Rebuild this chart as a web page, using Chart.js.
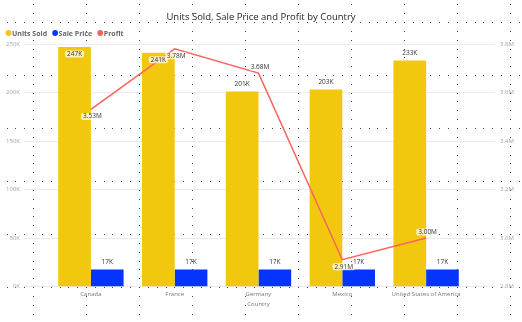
<!DOCTYPE html>
<html>
<head>
<meta charset="utf-8">
<script src="https://cdn.jsdelivr.net/npm/chart.js@4.4.1/dist/chart.umd.min.js"></script>
<style>
  html, body { margin: 0; padding: 0; background: #fff; }
  #wrap { width: 522px; height: 322px; }
</style>
</head>
<body>
<div id="wrap"><canvas id="myChart"></canvas></div>
<script>
  const countries = ['Canada', 'France', 'Germany', 'Mexico', 'United States of America'];
  const unitsSold = [247000, 241000, 201000, 203000, 233000];
  const salePrice = [17400, 17400, 17400, 17400, 17400];
  const profit = [3530000, 3780000, 3680000, 2910000, 3000000];
  const chartTitle = 'Units Sold, Sale Price and Profit by Country';
  const xTitle = 'Country';

  // which side of the point each profit label sits on
  const profitLabelSide = ['below', 'below', 'above', 'below', 'above'];

  const COLORS = {
    units: '#F2C80F',
    price: '#0534FF',
    profit: '#FD625E'
  };

  const fmtK = v => Math.round(v / 1000) + 'K';
  const fmtM = v => (v / 1e6).toFixed(2) + 'M';

  // Power BI style dotted canvas grid behind everything
  const dotGrid = {
    id: 'dotGrid',
    beforeDraw(chart) {
      const ctx = chart.ctx;
      const w = chart.width, h = chart.height;
      const step = 53, sub = 53 / 6;
      ctx.save();
      ctx.fillStyle = '#ffffff';
      ctx.fillRect(0, 0, w, h);
      ctx.fillStyle = '#444444';
      for (let y = 22; y < h; y += step) {
        for (let x = 33 - 3 * sub; x < w; x += sub) ctx.fillRect(Math.round(x), y, 1, 1);
      }
      for (let x = 33; x < w; x += step) {
        for (let y = 22 - 2 * sub; y < h; y += sub) ctx.fillRect(x, Math.round(y), 1, 1);
      }
      ctx.restore();
    }
  };

  // horizontal gridlines running a bit wider than the plot area
  const wideGrid = {
    id: 'wideGrid',
    beforeDatasetsDraw(chart) {
      const ctx = chart.ctx;
      const ys = chart.scales.y;
      ctx.save();
      ctx.strokeStyle = '#ececec';
      ctx.lineWidth = 1;
      ys.ticks.forEach(t => {
        const y = Math.round(ys.getPixelForValue(t.value)) + 0.5;
        ctx.beginPath();
        ctx.moveTo(24, y);
        ctx.lineTo(495, y);
        ctx.stroke();
      });
      ctx.restore();
    }
  };

  // title + legend drawn at the top
  const header = {
    id: 'header',
    afterDraw(chart) {
      const ctx = chart.ctx;
      ctx.save();
      ctx.fillStyle = '#252423';
      ctx.font = '9.5px "Open Sans"';
      ctx.textAlign = 'center';
      ctx.textBaseline = 'middle';
      ctx.fillText(chartTitle, 261, 17);

      let x = 5.5;
      ctx.font = 'bold 7px "Open Sans"';
      ctx.textAlign = 'left';
      chart.data.datasets.forEach(ds => {
        ctx.fillStyle = ds.legendColor;
        ctx.beginPath();
        ctx.arc(x + 3, 33, 2.9, 0, Math.PI * 2);
        ctx.fill();
        ctx.fillStyle = '#666666';
        ctx.fillText(ds.label, x + 6.5, 33.5);
        x += 6.5 + ctx.measureText(ds.label).width + 5;
      });
      ctx.restore();
    }
  };

  function pill(ctx, cx, cy, text) {
    const w = ctx.measureText(text).width + 4;
    ctx.fillStyle = 'rgba(255,255,255,0.72)';
    ctx.beginPath();
    ctx.roundRect(cx - w / 2, cy - 3.5, w, 7, 2);
    ctx.fill();
  }

  // data labels for bars and the profit line
  const valueLabels = {
    id: 'valueLabels',
    afterDatasetsDraw(chart) {
      const ctx = chart.ctx;
      const top = chart.chartArea.top;
      ctx.save();
      ctx.font = '6.5px "Open Sans"';
      ctx.textAlign = 'center';
      ctx.textBaseline = 'middle';
      [0, 1].forEach(di => {
        const meta = chart.getDatasetMeta(di);
        meta.data.forEach((bar, i) => {
          const text = fmtK(chart.data.datasets[di].data[i]);
          let cy;
          if (bar.y - 12 < top) {
            cy = bar.y + 7;
            pill(ctx, bar.x, cy, text);
          } else {
            cy = bar.y - 7;
          }
          ctx.fillStyle = '#333333';
          ctx.fillText(text, bar.x, cy);
        });
      });
      const lineMeta = chart.getDatasetMeta(2);
      lineMeta.data.forEach((pt, i) => {
        const text = fmtM(profit[i]);
        const cy = profitLabelSide[i] === 'below' ? pt.y + 7 : pt.y - 6;
        const cx = pt.x + 1.5;
        pill(ctx, cx, cy, text);
        ctx.fillStyle = '#333333';
        ctx.fillText(text, cx, cy);
      });
      ctx.restore();
    }
  };

  const ctx = document.getElementById('myChart').getContext('2d');
  const myChart = new Chart(ctx, {
    data: {
      labels: countries,
      datasets: [
        {
          type: 'bar',
          label: 'Units Sold',
          data: unitsSold,
          backgroundColor: COLORS.units,
          legendColor: COLORS.units,
          yAxisID: 'y',
          order: 1,
          categoryPercentage: 0.78,
          barPercentage: 1.0
        },
        {
          type: 'bar',
          label: 'Sale Price',
          data: salePrice,
          backgroundColor: COLORS.price,
          legendColor: COLORS.price,
          yAxisID: 'y',
          order: 1,
          categoryPercentage: 0.78,
          barPercentage: 1.0
        },
        {
          type: 'line',
          label: 'Profit',
          data: profit,
          borderColor: COLORS.profit,
          legendColor: COLORS.profit,
          borderWidth: 1.5,
          pointRadius: 0,
          tension: 0,
          yAxisID: 'y1',
          order: 0
        }
      ]
    },
    options: {
      responsive: true,
      maintainAspectRatio: false,
      animation: false,
      layout: { padding: { top: 44, left: 0, right: 0, bottom: 0 } },
      plugins: {
        legend: { display: false },
        title: { display: false },
        tooltip: { enabled: false }
      },
      scales: {
        x: {
          type: 'category',
          offset: true,
          grid: { display: false, drawTicks: false },
          border: { display: false },
          ticks: {
            autoSkip: false,
            maxRotation: 0,
            padding: 4,
            color: '#777777',
            font: { family: 'Open Sans', size: 6 }
          },
          title: {
            display: true,
            text: xTitle,
            color: '#777777',
            font: { family: 'Open Sans', size: 6 },
            padding: { top: 0, bottom: 14 }
          },
          afterFit(scale) { scale.height = 35; }
        },
        y: {
          position: 'left',
          min: 0,
          max: 250000,
          grid: { display: false, drawTicks: false },
          border: { display: false },
          ticks: {
            stepSize: 50000,
            padding: 29,
            color: '#a3a2b0',
            font: { family: 'Open Sans', size: 6 },
            callback: v => (v / 1000) + 'K'
          },
          afterFit(scale) { scale.width = 49; }
        },
        y1: {
          position: 'right',
          min: 2800000,
          max: 3800000,
          grid: { display: false, drawTicks: false },
          border: { display: false },
          ticks: {
            stepSize: 200000,
            padding: 32,
            color: '#a3a2b0',
            font: { family: 'Open Sans', size: 6 },
            callback: v => (v / 1e6).toFixed(1) + 'M'
          },
          afterFit(scale) { scale.width = 54; }
        }
      }
    },
    plugins: [dotGrid, wideGrid, valueLabels, header]
  });
</script>
</body>
</html>
